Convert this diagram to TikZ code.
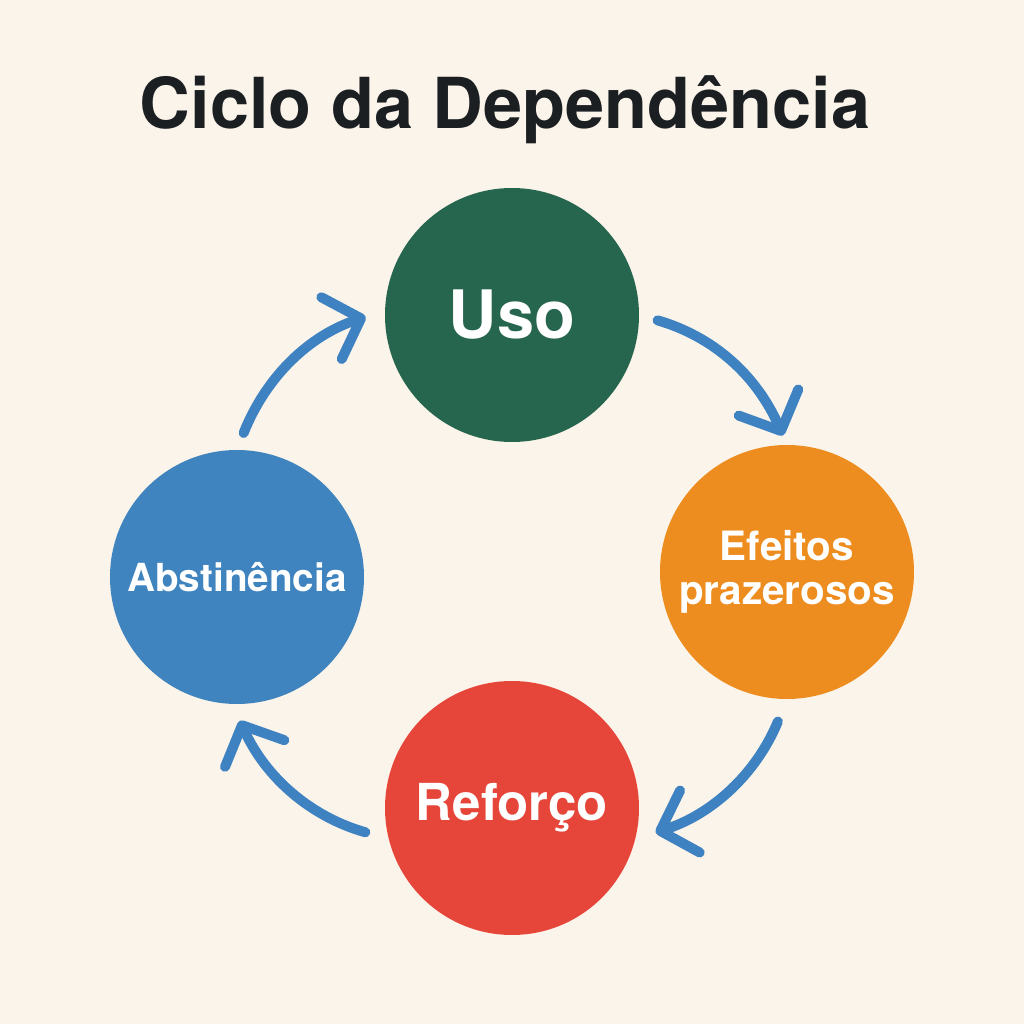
\documentclass[tikz,border=0pt]{standalone}
\usepackage{fontspec}
\setmainfont{TeX Gyre Heros}
\usepackage{tikz}
\usetikzlibrary{arrows.meta}
\definecolor{bgcream}{HTML}{FBF4EA}
\definecolor{titleink}{HTML}{1C1F22}
\definecolor{usogreen}{HTML}{26654E}
\definecolor{efeitosorange}{HTML}{EE8D1F}
\definecolor{reforcored}{HTML}{E6463A}
\definecolor{abstblue}{HTML}{3F84BE}
\definecolor{arrowblue}{HTML}{3E82C1}
\tikzset{stage/.style={circle, minimum size=5.08cm, inner sep=0pt, text=white, align=center}}
\tikzset{cyclearrow/.style={draw=arrowblue, line width=0.2cm, line cap=round, -{Straight Barb[length=0.62cm, width=1.3cm, round]}}}

\begin{document}
\begin{tikzpicture}
\fill[bgcream] (0,0) rectangle (20.48,20.48);
\node[text=titleink, font=\fontsize{40}{48}\selectfont\bfseries] (title) at (10.1,18.28) {Ciclo da Dependência};
\node[stage, fill=usogreen, font=\fontsize{38}{44}\selectfont\bfseries] (uso) at (10.24,14.18) {Uso};
\node[stage, fill=efeitosorange, font=\fontsize{23}{25}\selectfont\bfseries] (efeitos) at (15.74,9.04) {Efeitos\\prazerosos};
\node[stage, fill=reforcored, font=\fontsize{29}{34}\selectfont\bfseries] (reforco) at (10.24,4.32) {Reforço};
\node[stage, fill=abstblue, font=\fontsize{22}{26}\selectfont\bfseries] (abst) at (4.74,8.94) {Abstinência};
\draw[cyclearrow, shorten <=0.38cm, shorten >=0.2cm] (uso.0) to[bend left=25] (efeitos.90);
\draw[cyclearrow, shorten <=0.48cm, shorten >=0.42cm] (efeitos.270) to[bend left=25] (reforco.-14);
\draw[cyclearrow, shorten <=0.48cm, shorten >=0.36cm] (reforco.194) to[bend left=25] (abst.268);
\draw[cyclearrow, shorten <=0.36cm, shorten >=0.40cm] (abst.90) to[bend left=25] (uso.178);
\end{tikzpicture}
\end{document}
